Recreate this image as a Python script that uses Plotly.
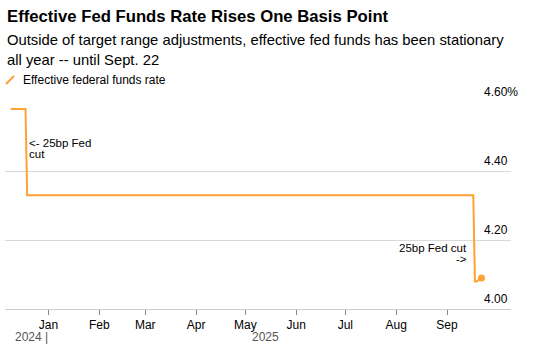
import plotly.graph_objects as go

dates = ["2024-12-09", "2024-12-18", "2024-12-19", "2025-09-17", "2025-09-18", "2025-09-19", "2025-09-22"]
rate = [4.58, 4.58, 4.33, 4.33, 4.08, 4.08, 4.09]

y_ticks = [4.00, 4.20, 4.40, 4.60]
y_labels = ["4.00", "4.20", "4.40", "4.60%"]
month_ticks = ["2025-01-01", "2025-02-01", "2025-03-01", "2025-04-01", "2025-05-01",
               "2025-06-01", "2025-07-01", "2025-08-01", "2025-09-01"]
month_labels = ["Jan", "Feb", "Mar", "Apr", "May", "Jun", "Jul", "Aug", "Sep"]

ORANGE = "#FFA133"
FONT = "Liberation Sans, Arial, sans-serif"

W, H = 534, 350
L, R, T, B = 5, 23, 102, 41
pw = W - L - R
ph = H - T - B


def px(xp, yp):
    return (xp - L) / pw, 1 - (yp - T) / ph


fig = go.Figure()
fig.add_trace(go.Scatter(x=dates, y=rate, mode="lines", line=dict(color=ORANGE, width=2),
                         showlegend=False, hoverinfo="skip"))
fig.add_trace(go.Scatter(x=[dates[-1]], y=[rate[-1]], mode="markers",
                         marker=dict(color=ORANGE, size=7), showlegend=False, hoverinfo="skip"))

ann = []
for v, lab in zip(y_ticks, y_labels):
    xp = 520 if "%" in lab else 510
    ann.append(dict(x=(xp - L) / pw, y=v, xref="paper", yref="y", text=lab,
                    showarrow=False, xanchor="right", yanchor="bottom", yshift=1,
                    font=dict(size=12, color="#000000")))


def text_at(xp, yp, text, size, color="#000000", xanchor="left", align="left"):
    x0, y0 = px(xp, yp)
    ann.append(dict(x=x0, y=y0, xref="paper", yref="paper", xanchor=xanchor, yanchor="middle",
                    align=align, text=text, showarrow=False, font=dict(size=size, color=color)))


text_at(5, 17, "<b>Effective Fed Funds Rate Rises One Basis Point</b>", 16.7)
text_at(5, 40, "Outside of target range adjustments, effective fed funds has been stationary", 14.8)
text_at(5, 60, "all year -- until Sept. 22", 14.8)
text_at(21, 80, "Effective federal funds rate", 12)
text_at(27, 143, "<- 25bp Fed", 11.5)
text_at(27, 154, "cut", 11.5)
text_at(469, 248, "25bp Fed cut", 11.5, xanchor="right", align="right")
text_at(469, 259, "->", 11.5, xanchor="right", align="right")
text_at(50, 337, "2024 |", 12, color="#555555", xanchor="right")
text_at(265, 337, "2025", 12, color="#555555", xanchor="center")

xa, ya = px(6, 84)
xb, yb = px(14, 76)

fig.update_layout(
    width=W, height=H,
    margin=dict(l=L, r=R, t=T, b=B),
    paper_bgcolor="white", plot_bgcolor="white",
    font=dict(family=FONT, color="#000000", size=12),
    xaxis=dict(range=["2024-12-05 12:00", "2025-10-10"], tickvals=month_ticks, ticktext=month_labels,
               showgrid=False, showline=True, linecolor="#cccccc", linewidth=1,
               ticks="outside", ticklen=5, tickcolor="#888888", tickwidth=1,
               tickfont=dict(size=12, color="#000000"), zeroline=False, fixedrange=True),
    yaxis=dict(range=[4.0, 4.6], tickvals=y_ticks, showticklabels=False, showgrid=True,
               gridcolor="#d9d9d9", gridwidth=1, zeroline=False, showline=False, fixedrange=True),
    annotations=ann,
    shapes=[dict(type="line", xref="paper", yref="paper", x0=xa, y0=ya, x1=xb, y1=yb,
                 line=dict(color=ORANGE, width=2))],
)

fig.write_html("out.html")
